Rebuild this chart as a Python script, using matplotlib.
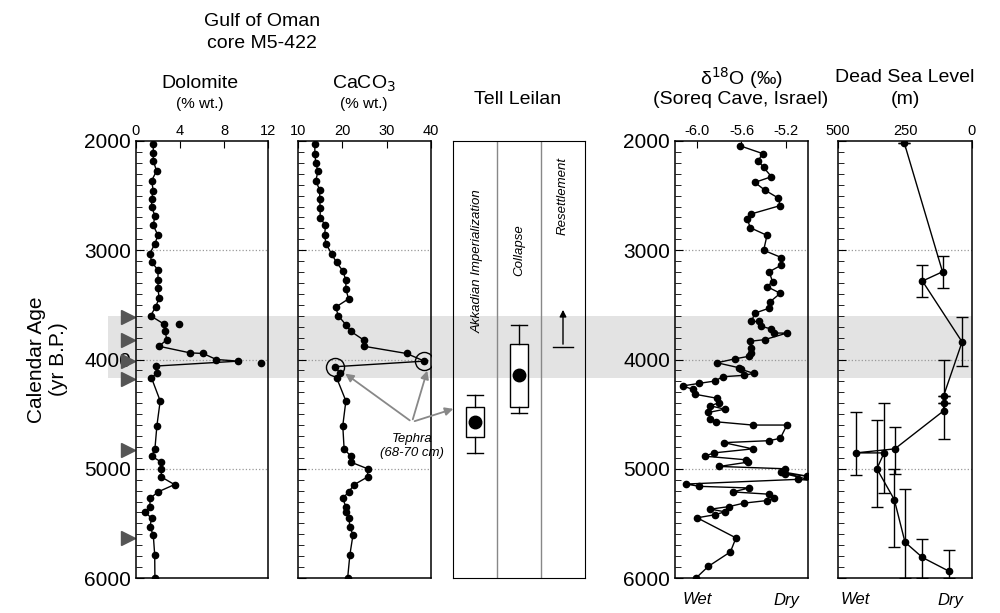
import matplotlib
matplotlib.use("Agg")
import matplotlib.pyplot as plt
import numpy as np

plt.rcParams["font.family"] = "Liberation Sans"

# ---- data (age yr B.P., value) ----
dol_age = [2030, 2106, 2182, 2273, 2364, 2455, 2530, 2606, 2682, 2773, 2864, 2939, 3030, 3106,
           3182, 3273, 3348, 3439, 3515, 3600, 3673, 3742, 3818, 3879, 3939, 3945, 4000, 4015,
           4060, 4127, 4166, 4379, 4606, 4818, 4885, 4939, 5000, 5075, 5145, 5212, 5272, 5348,
           5394, 5454, 5530, 5606, 5788, 6000]
dol_val = [1.57, 1.57, 1.57, 1.87, 1.42, 1.57, 1.42, 1.42, 1.72, 1.57, 2.0, 1.72, 1.27, 1.42,
           2.0, 2.0, 2.0, 2.1, 1.8, 1.33, 2.5, 2.65, 2.8, 2.1, 4.9, 6.1, 7.3, 9.3,
           1.8, 1.9, 1.4, 2.2, 1.9, 1.72, 1.42, 2.3, 2.3, 2.3, 3.5, 2.0, 1.27, 1.27,
           0.8, 1.42, 1.27, 1.57, 1.7, 1.72]
dol_extra_age = [3673, 4035]
dol_extra_val = [3.9, 11.4]

caco3_age = [2030, 2115, 2197, 2279, 2364, 2449, 2530, 2612, 2703, 2773, 2864, 2939, 3036, 3112,
             3188, 3273, 3355, 3445, 3521, 3600, 3682, 3742, 3824, 3879, 3945, 4015, 4066, 4127,
             4166, 4379, 4606, 4818, 4885, 4939, 5000, 5075, 5145, 5212, 5272, 5348, 5394, 5454,
             5530, 5606, 5788, 6000]
caco3_val = [13.8, 13.8, 14.0, 14.5, 14.0, 14.9, 14.9, 15.0, 15.0, 16.2, 16.0, 16.3, 17.6, 18.7,
             20.1, 20.8, 20.8, 21.4, 18.5, 19.1, 20.8, 21.9, 24.9, 24.9, 34.5, 38.5, 18.4, 19.5,
             18.7, 20.8, 20.1, 20.4, 21.9, 21.9, 25.7, 25.7, 22.7, 21.4, 20.1, 20.8, 20.9, 21.5,
             21.7, 22.4, 21.7, 21.2]

d18o_age = [2045, 2115, 2182, 2242, 2327, 2379, 2449, 2521, 2591, 2667, 2712, 2794, 2864, 3000,
            3067, 3136, 3197, 3288, 3333, 3394, 3470, 3530, 3576, 3652, 3652, 3697, 3721, 3758,
            3758, 3818, 3833, 3894, 3939, 3970, 3994, 4030, 4076, 4091, 4127, 4145, 4158, 4197,
            4218, 4242, 4273, 4318, 4355, 4394, 4424, 4455, 4485, 4545, 4570, 4600, 4600, 4721,
            4743, 4761, 4818, 4855, 4885, 4918, 4939, 4979, 5000, 5027, 5067, 5046, 5109, 5097,
            5140, 5161, 5176, 5212, 5233, 5270, 5291, 5315, 5346, 5370, 5394, 5421, 5449, 5633,
            5761, 5894, 6000]
d18o_val = [-5.61, -5.41, -5.45, -5.40, -5.33, -5.48, -5.39, -5.27, -5.25, -5.51, -5.55, -5.52,
            -5.37, -5.40, -5.24, -5.24, -5.35, -5.32, -5.37, -5.25, -5.34, -5.35, -5.48, -5.51,
            -5.44, -5.42, -5.33, -5.31, -5.19, -5.39, -5.52, -5.51, -5.51, -5.53, -5.66, -5.82,
            -5.62, -5.60, -5.49, -5.58, -5.77, -5.84, -5.98, -6.13, -6.04, -6.02, -5.82, -5.80,
            -5.88, -5.75, -5.90, -5.88, -5.83, -5.50, -5.19, -5.25, -5.35, -5.76, -5.50, -5.85,
            -5.93, -5.56, -5.54, -5.80, -5.21, -5.24, -5.01, -5.21, -4.95, -5.09, -6.10, -5.98,
            -5.53, -5.68, -5.35, -5.31, -5.37, -5.58, -5.71, -5.88, -5.75, -5.84, -6.00,
            -5.65, -5.70, -5.90, -6.01]

sea_age = [2015, 3197, 3282, 3839, 4333, 4400, 4470, 4818, 4855, 4855, 5000, 5282, 5672, 5812, 5939]
sea_val = [253, 110, 185, 37, 106, 106, 106, 288, 434, 328, 355, 290, 250, 185, 85]
sea_lo = [2015, 3054, 3136, 3612, 4333, 4400, 4000, 4621, 4476, 4400, 4554, 5006, 5182, 5642, 5742]
sea_hi = [2015, 3348, 3424, 4060, 4333, 4400, 4727, 5045, 5060, 5218, 5348, 5712, 6000, 6000, 6000]

event_ages = [3612, 3824, 4015, 4182, 4824, 5636]
band = (3600, 4170)

# Tell Leilan boxes: whisker top, box top, median dot, box bottom, whisker bottom
akkad = [4324, 4434, 4571, 4709, 4855]
collapse = [3684, 3858, 4141, 4434, 4489]

W, H = 1000, 613
fig = plt.figure(figsize=(W / 100, H / 100), dpi=100)


def px_ax(x0, x1, y0=141, y1=578, **kw):
    return fig.add_axes([x0 / W, 1 - y1 / H, (x1 - x0) / W, (y1 - y0) / H], **kw)


# background band
bg = px_ax(108, 972, zorder=0)
bg.set_ylim(6000, 2000)
bg.axhspan(*band, color="#e3e3e3", lw=0)
bg.axis("off")


def style(ax, xlim, xticks, xlabels, left_labels=False):
    ax.set_facecolor("none")
    ax.set_ylim(6000, 2000)
    ax.set_xlim(*xlim)
    ax.xaxis.tick_top()
    ax.set_xticks(xticks)
    ax.set_xticklabels(xlabels, fontsize=10.5)
    ax.set_yticks([2000, 3000, 4000, 5000, 6000])
    ax.set_yticks(np.arange(2000, 6001, 100), minor=True)
    ax.tick_params(axis="y", which="both", direction="in", right=False)
    ax.tick_params(axis="y", which="major", length=6)
    ax.tick_params(axis="y", which="minor", length=4)
    ax.tick_params(axis="x", direction="in", length=5, pad=2)
    if left_labels:
        ax.set_yticklabels(["2000", "3000", "4000", "5000", "6000"], fontsize=15)
    else:
        ax.set_yticklabels([])
    for a in (3000, 4000, 5000):
        ax.axhline(a, color="#999999", ls=":", lw=0.9, zorder=0)
    for s in ax.spines.values():
        s.set_linewidth(1.1)


mk = dict(color="black", marker="o", ms=4.5, lw=1.0)

# Dolomite
ax1 = px_ax(136, 268, zorder=2)
style(ax1, (0, 12), [0, 4, 8, 12], ["0", "4", "8", "12"], left_labels=True)
ax1.plot(dol_val, dol_age, **mk)
ax1.plot(dol_extra_val, dol_extra_age, "o", color="black", ms=4.5)
ax1.plot([-0.75] * len(event_ages), event_ages, ">", color="#555555", ms=10, clip_on=False)
ax1.set_ylabel("Calendar Age\n(yr B.P.)", fontsize=15, labelpad=12)

# CaCO3
ax2 = px_ax(298, 431, zorder=2)
style(ax2, (10, 40), [10, 20, 30, 40], ["10", "20", "30", "40"])
ax2.plot(caco3_val, caco3_age, **mk)
ax2.plot([caco3_val[26], caco3_val[25]], [caco3_age[26], caco3_age[25]], "o",
         mfc="none", mec="black", ms=13, mew=1.0)

# Tell Leilan
ax3 = px_ax(453, 585, zorder=2)
ax3.set_facecolor("none")
ax3.set_xlim(0, 3)
ax3.set_ylim(6000, 2000)
ax3.set_xticks([])
ax3.set_yticks([])
ax3.axvline(1, color="#888888", lw=1)
ax3.axvline(2, color="#888888", lw=1)
for xc, b in ((0.5, akkad), (1.5, collapse)):
    ax3.plot([xc, xc], [b[0], b[1]], color="black", lw=1)
    ax3.plot([xc, xc], [b[3], b[4]], color="black", lw=1)
    ax3.plot([xc - 0.18, xc + 0.18], [b[0], b[0]], color="black", lw=1)
    ax3.plot([xc - 0.18, xc + 0.18], [b[4], b[4]], color="black", lw=1)
    ax3.add_patch(plt.Rectangle((xc - 0.2, b[1]), 0.4, b[3] - b[1], fc="white", ec="black", lw=1))
    ax3.plot(xc, b[2], "o", color="black", ms=9)
ax3.plot([2.28, 2.72], [3885, 3885], color="black", lw=1)
ax3.annotate("", xy=(2.5, 3520), xytext=(2.5, 3885),
             arrowprops=dict(arrowstyle="-|>", color="black", lw=1))
ax3.text(0.55, 3100, "Akkadian Imperialization", rotation=90, ha="center", va="center",
         style="italic", fontsize=9.5)
ax3.text(1.5, 3000, "Collapse", rotation=90, ha="center", va="center", style="italic", fontsize=9.5)
ax3.text(2.5, 2500, "Resettlement", rotation=90, ha="center", va="center", style="italic", fontsize=9.5)

# Tephra arrows (figure pixel coordinates)
for tx, ty in ((343, 372), (428, 368), (456, 408)):
    fig.add_artist(matplotlib.patches.FancyArrowPatch(
        (412 / W, 1 - 422 / H), (tx / W, 1 - ty / H), transform=fig.transFigure,
        arrowstyle="-|>", mutation_scale=12, color="#888888", lw=1.3, zorder=5))
fig.text(412 / W, 1 - 446 / H, "Tephra\n(68-70 cm)", ha="center", va="center",
         style="italic", fontsize=9.5, zorder=6)

# d18O
ax4 = px_ax(675, 808, zorder=2)
style(ax4, (-6.2, -5.0), [-6.0, -5.6, -5.2], ["-6.0", "-5.6", "-5.2"], left_labels=True)
ax4.plot(d18o_val, d18o_age, **mk)

# Dead Sea
ax5 = px_ax(838, 972, zorder=2)
style(ax5, (500, 0), [500, 250, 0], ["500", "250", "0"])
yerr = [np.array(sea_age) - np.array(sea_lo), np.array(sea_hi) - np.array(sea_age)]
ax5.errorbar(sea_val, sea_age, yerr=yerr, color="black", marker="o", ms=4.5, lw=1.0,
             elinewidth=1, capsize=4)

# titles
def ftext(x, y, s, **kw):
    fig.text(x / W, 1 - y / H, s, ha="center", va="center", **kw)

ftext(262, 22, "Gulf of Oman", fontsize=14)
ftext(262, 44, "core M5-422", fontsize=14)
ftext(200, 84, "Dolomite", fontsize=14)
ftext(200, 104, "(% wt.)", fontsize=11)
ftext(364, 84, "CaCO$_3$", fontsize=14)
ftext(364, 104, "(% wt.)", fontsize=11)
ftext(518, 100, "Tell Leilan", fontsize=14)
ftext(741, 78, "δ$^{18}$O (‰)", fontsize=14)
ftext(741, 100, "(Soreq Cave, Israel)", fontsize=14)
ftext(905, 78, "Dead Sea Level", fontsize=14)
ftext(905, 100, "(m)", fontsize=14)
for x, s in ((697, "Wet"), (786, "Dry"), (855, "Wet"), (950, "Dry")):
    ftext(x, 600, s, fontsize=12, style="italic")

fig.savefig("out.png", dpi=100)
